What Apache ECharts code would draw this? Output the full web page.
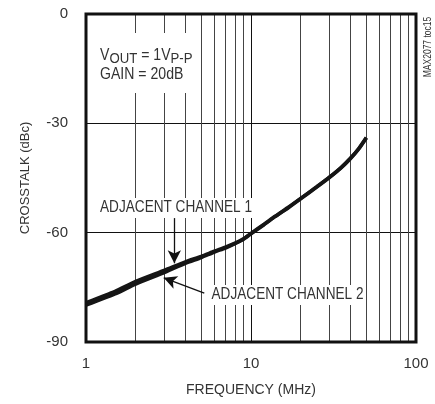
<!DOCTYPE html>
<html><head><meta charset="utf-8">
<script src="https://cdn.jsdelivr.net/npm/echarts@6/dist/echarts.min.js"></script>
<style>html,body{margin:0;padding:0;background:#fff}#c{width:435px;height:404px}</style>
</head><body><div id="c"></div>
<script>
const freq = [1, 1.5, 2, 3, 4, 5, 6, 7, 8, 9, 10, 12, 14, 17, 20, 25, 30, 35, 40, 45, 50];
const ch1 = [-79.2, -76.1, -73.4, -70.3, -68.0, -66.5, -65.1, -64.0, -62.9, -61.7, -60.2, -57.7, -55.5, -52.9, -50.6, -47.4, -44.7, -42.2, -39.6, -36.9, -33.9];
const ch2 = [-79.9, -76.8, -74.1, -70.9, -68.4, -66.8, -65.3, -64.2, -63.0, -61.8, -60.3, -57.8, -55.6, -53.0, -50.7, -47.5, -44.8, -42.3, -39.7, -37.0, -34.0];
const xMinorGrid = [2, 3, 4, 5, 6, 7, 8, 9, 20, 30, 40, 50, 60, 70, 80, 90];
const arrow1 = [[3.43, -56.0], [3.43, -68.4]];
const arrow2 = [[5.21, -76.6], [2.96, -72.4]];

const FONT = '"Liberation Sans", Arial, sans-serif';
const chart = echarts.init(document.getElementById('c'), null, {renderer: 'canvas'});
const pairs = (xs, ys) => xs.map((x, i) => [x, ys[i]]);

chart.setOption({
  animation: false,
  backgroundColor: '#fff',
  grid: {left: 86, right: 19, top: 14, bottom: 62, show: true, borderColor: '#111', borderWidth: 3, backgroundColor: 'transparent', z: 10},
  xAxis: {
    type: 'log', logBase: 10, min: 1, max: 100,
    axisLine: {show: false}, axisTick: {show: false},
    axisLabel: {color: '#333', fontFamily: FONT, fontSize: 15, margin: 14},
    splitLine: {show: true, lineStyle: {color: '#111', width: 1}},
    name: 'FREQUENCY (MHz)', nameLocation: 'middle', nameGap: 41,
    nameTextStyle: {color: '#333', fontFamily: FONT, fontSize: 14}
  },
  yAxis: {
    type: 'value', min: -90, max: 0, interval: 30,
    axisLine: {show: false}, axisTick: {show: false},
    axisLabel: {color: '#333', fontFamily: FONT, fontSize: 15, margin: 18},
    splitLine: {show: true, lineStyle: {color: '#111', width: 1}},
    name: 'CROSSTALK (dBc)', nameLocation: 'middle', nameGap: 54,
    nameTextStyle: {color: '#333', fontFamily: FONT, fontSize: 13}
  },
  series: [
    {
      type: 'line', data: [], silent: true,
      markLine: {
        silent: true, symbol: ['none', 'none'], animation: false,
        label: {show: false},
        lineStyle: {color: '#444', width: 1, type: 'solid'},
        data: xMinorGrid.map(v => ({xAxis: v}))
      }
    },
    {
      name: 'ADJACENT CHANNEL 2', type: 'line', data: pairs(freq, ch2), smooth: 0.2,
      showSymbol: false, lineStyle: {color: '#151515', width: 3.6}, z: 5
    },
    {
      name: 'ADJACENT CHANNEL 1', type: 'line', data: pairs(freq, ch1), smooth: 0.2,
      showSymbol: false, lineStyle: {color: '#151515', width: 3.6}, z: 5,
      markLine: {
        silent: true, animation: false, symbol: ['none', 'arrow'], symbolSize: [10, 13],
        label: {show: false},
        lineStyle: {color: '#111', width: 1.3, type: 'solid'},
        data: [
          [{coord: arrow1[0]}, {coord: arrow1[1]}],
          [{coord: arrow2[0]}, {coord: arrow2[1]}]
        ]
      }
    }
  ],
  graphic: [
    {type: 'rect', shape: {x: 93, y: 33, width: 104, height: 60}, style: {fill: '#fff'}, z: 20},
    {type: 'text', x: 100, y: 46, scaleX: 0.88, z: 21, style: {
      text: '{a|V}{s|OUT}{a| = 1V}{s|P-P}\n{a|GAIN = 20dB}',
      rich: {
        a: {fontFamily: FONT, fontSize: 16, fill: '#333', lineHeight: 19},
        s: {fontFamily: FONT, fontSize: 15, fill: '#333', lineHeight: 19, padding: [6, 0, 0, 0]}
      }
    }},
    {type: 'text', x: 176, y: 208, scaleX: 0.85, z: 21, style: {
      text: 'ADJACENT CHANNEL 1', fontFamily: FONT, fontSize: 16, fill: '#333',
      align: 'center', verticalAlign: 'middle', backgroundColor: '#fff', padding: [2, 3, 2, 3]
    }},
    {type: 'text', x: 209, y: 295, scaleX: 0.85, z: 21, style: {
      text: 'ADJACENT CHANNEL 2', fontFamily: FONT, fontSize: 16, fill: '#333',
      align: 'left', verticalAlign: 'middle', backgroundColor: '#fff', padding: [2, 3, 2, 3]
    }},
    {type: 'text', x: 428, y: 47, rotation: Math.PI / 2, scaleX: 0.85, z: 21, style: {
      text: 'MAX2077 toc15', fontFamily: FONT, fontSize: 10, fill: '#333',
      align: 'center', verticalAlign: 'middle'
    }}
  ]
});
</script>
</body></html>
